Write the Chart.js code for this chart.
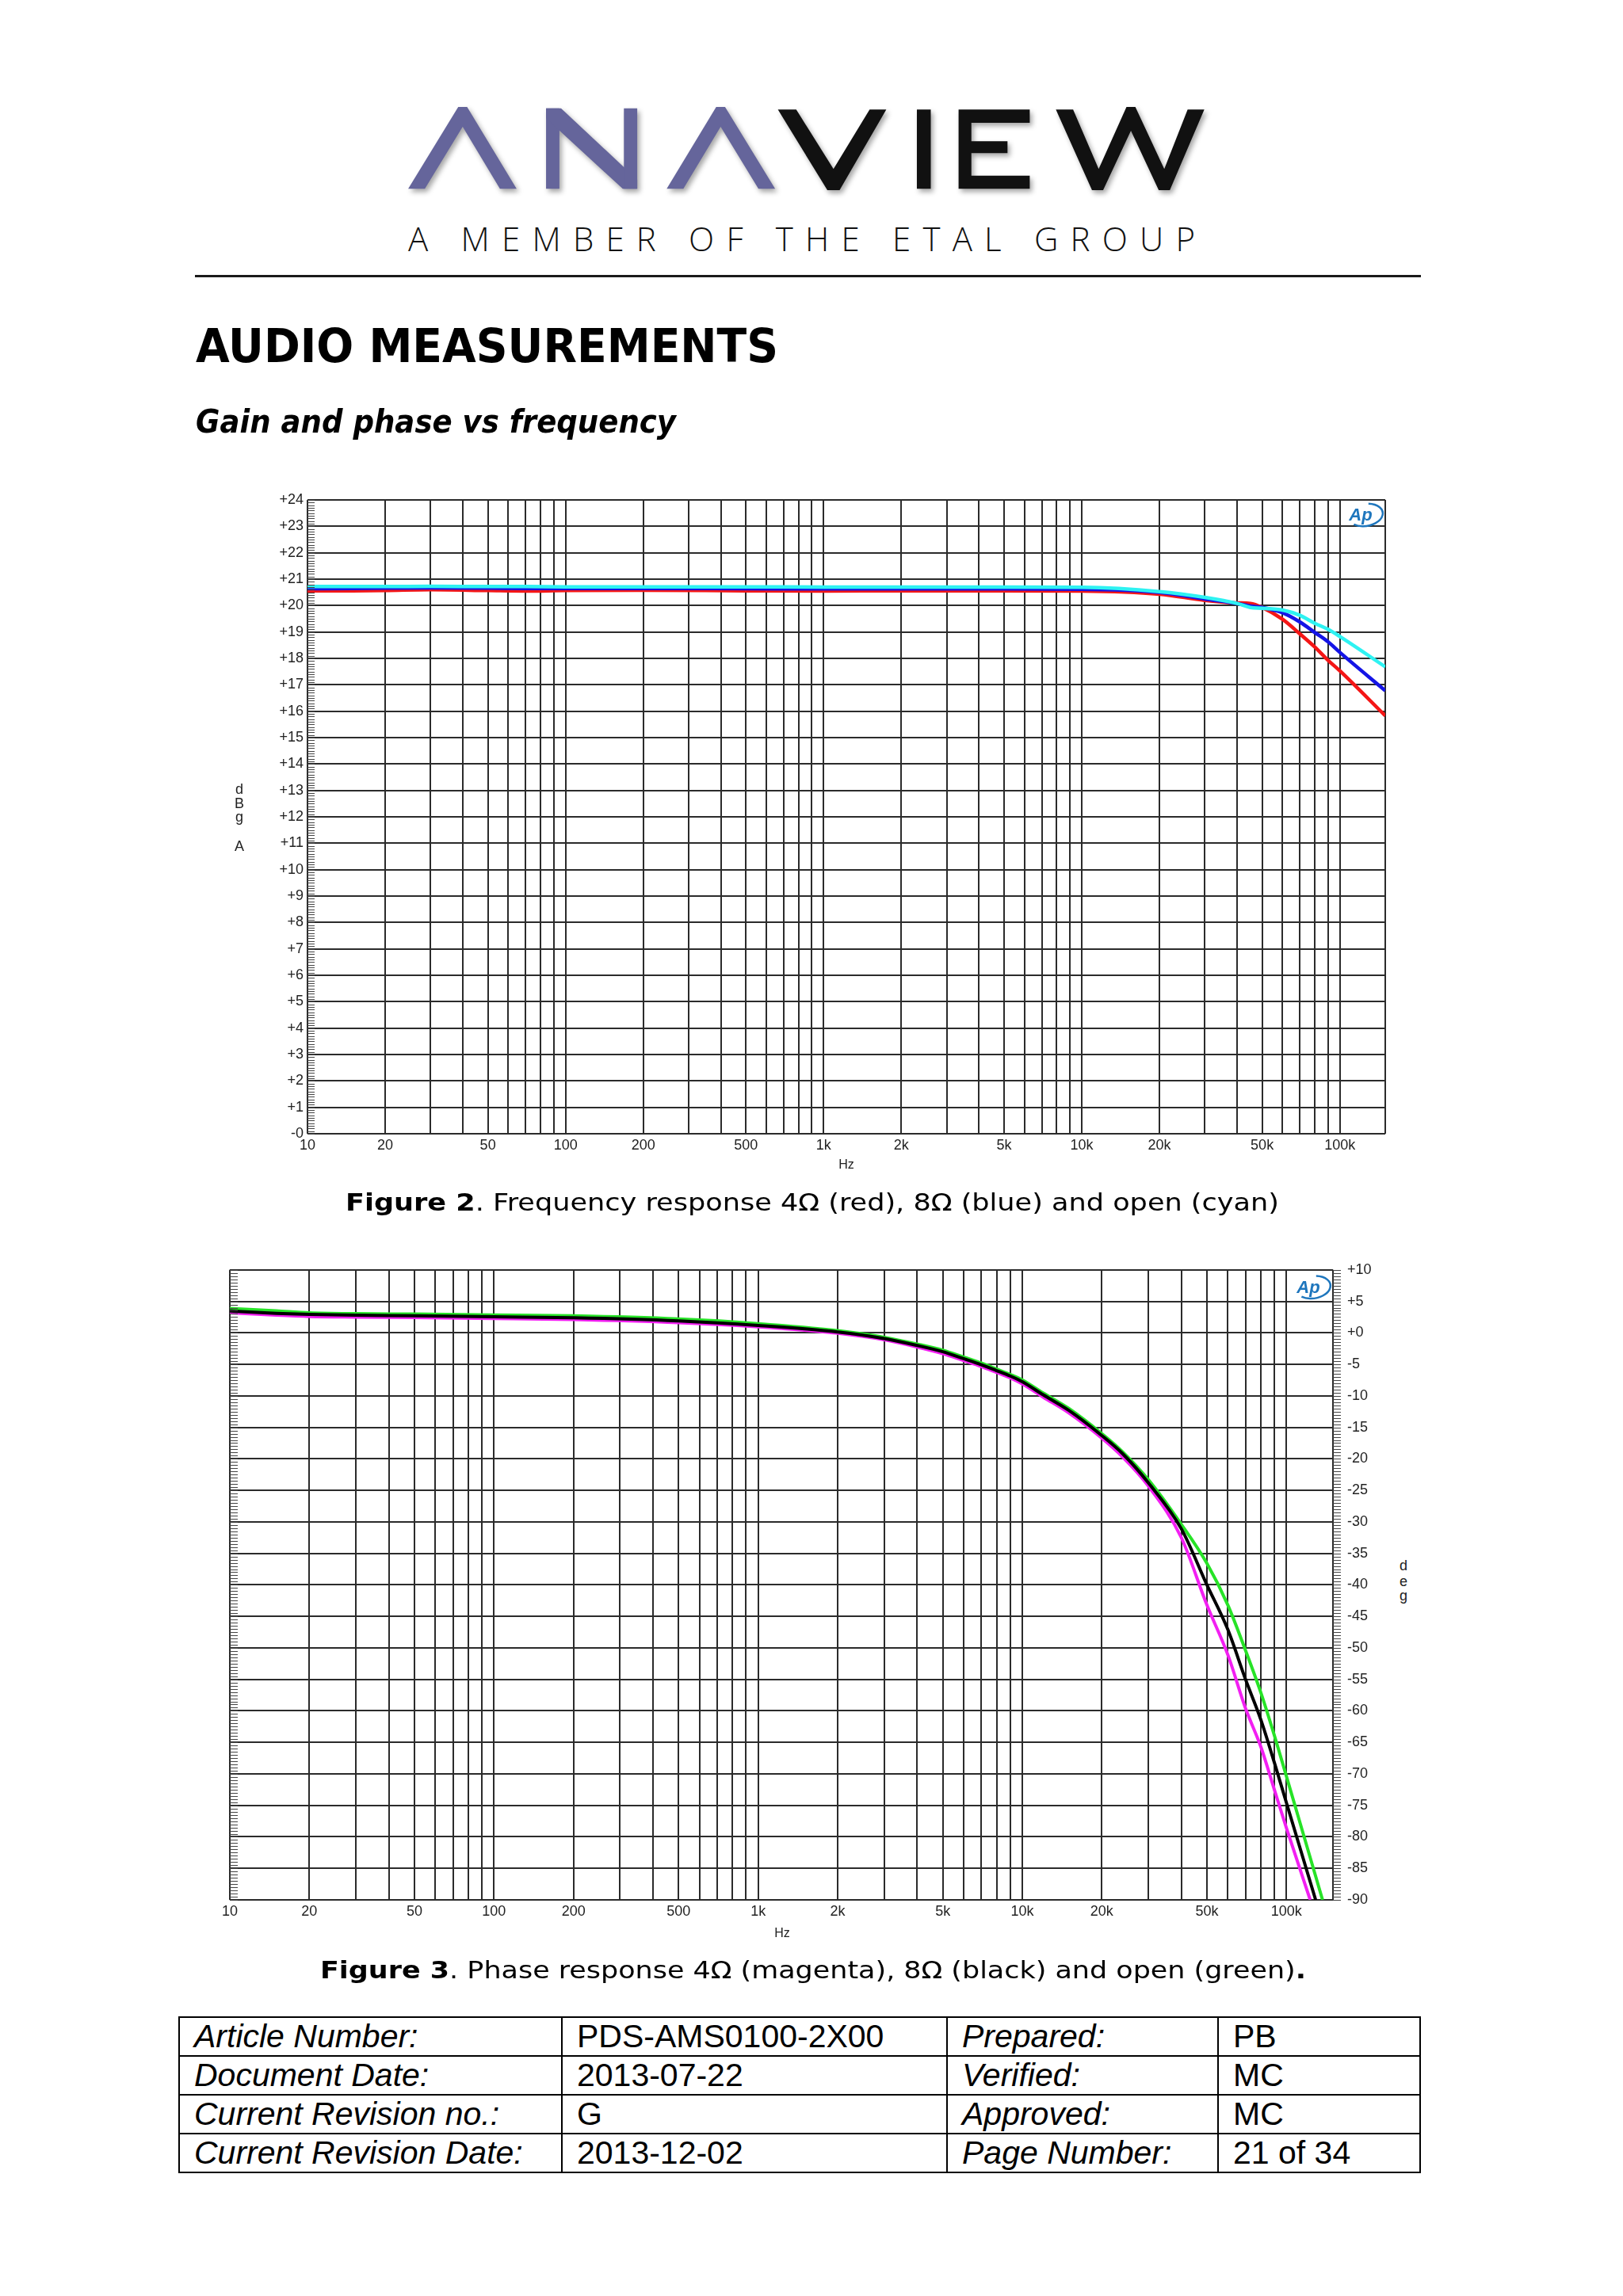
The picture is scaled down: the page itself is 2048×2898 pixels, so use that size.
<!DOCTYPE html>
<html>
<head>
<meta charset="utf-8">
<title>Audio measurements</title>
<script src="https://cdn.jsdelivr.net/npm/chart.js@4.4.0/dist/chart.umd.min.js"></script>
<style>
  html, body { margin: 0; padding: 0; background: #fff; }
  body { width: 2048px; height: 2898px; position: relative; overflow: hidden; font-family: "DejaVu Sans", sans-serif; color: #000; }
  .abs { position: absolute; white-space: nowrap; }
  .fit { display: inline-block; transform-origin: 0 0; }
  .ax { position: absolute; font-family: "Liberation Sans", Arial, sans-serif; font-size: 18px; line-height: 18px; color: #222; width: 20px; margin-left: -10px; text-align: center; }
  canvas { position: absolute; }
  table { position: absolute; left: 225px; top: 2545px; border-collapse: collapse; font-family: "Liberation Sans", Arial, sans-serif; font-size: 41px; }
  td { border: 2px solid #000; height: 47px; padding: 0 0 0 18px; line-height: 47px; white-space: nowrap; }
  td.k { font-style: italic; }
</style>
</head>
<body>

<svg class="abs" style="left:480px;top:110px;filter:drop-shadow(3px 4px 3px rgba(0,0,0,0.35))" width="1100" height="260" viewBox="0 0 1568 780" preserveAspectRatio="none">
  <g fill="#65659b">
    <polygon points="50,385 140,75 156,75 245,385 215,385 148,150 80,385"/>
    <polygon points="298,80 322,80 322,385 298,385"/>
    <polygon points="298,80 325,80 462,350 462,385 436,385 298,118"/>
    <polygon points="438,80 462,80 462,385 438,385"/>
    <polygon points="515,385 604,75 620,75 710,385 680,385 612,150 545,385"/>
  </g>
  <g fill="#111">
    <polygon points="715,85 748,85 815,310 880,85 910,85 826,390 804,390"/>
    <polygon points="965,85 990,85 990,385 965,385"/>
    <polygon points="1040,85 1168,85 1168,135 1063,135 1063,205 1128,205 1128,250 1063,250 1063,335 1168,335 1168,385 1040,385"/>
    <polygon points="1215,85 1246,85 1292,310 1342,75 1358,75 1410,310 1452,85 1482,85 1420,390 1400,390 1350,165 1300,390 1280,390"/>
  </g>
</svg>
<div class="abs" id="member" style="left:515px;top:280px;font-family:'Open Sans',sans-serif;font-weight:300;font-size:42px;line-height:42px;color:#111">A MEMBER OF THE ETAL GROUP</div>
<div class="abs" style="left:246px;top:347px;width:1547px;height:3px;background:#1a1a1a"></div>

<div class="abs" style="left:247px;top:408px;font-size:58px;line-height:58px;font-weight:bold"><span class="fit" data-w="735">AUDIO MEASUREMENTS</span></div>
<div class="abs" style="left:247px;top:512px;font-size:41px;line-height:41px;font-weight:bold;font-style:italic"><span class="fit" data-w="606">Gain and phase vs frequency</span></div>

<canvas id="gainChart" width="1510" height="880" style="left:260px;top:611px"></canvas>
<div class="ax" style="left:302px;top:987px">d</div>
<div class="ax" style="left:302px;top:1005px">B</div>
<div class="ax" style="left:302px;top:1022px">g</div>
<div class="ax" style="left:302px;top:1059px">A</div>
<div class="ax" style="left:1068px;top:1461px;font-size:16px">Hz</div>

<div class="abs" style="left:436px;top:1502px;font-size:31px;line-height:31px"><span class="fit" data-w="1178"><b>Figure 2</b>. Frequency response 4Ω (red), 8Ω (blue) and open (cyan)</span></div>

<canvas id="phaseChart" width="1480" height="880" style="left:270px;top:1574px"></canvas>
<div class="ax" style="left:1771px;top:1967px">d</div>
<div class="ax" style="left:1771px;top:1987px">e</div>
<div class="ax" style="left:1771px;top:2005px">g</div>
<div class="ax" style="left:987px;top:2431px;font-size:16px">Hz</div>

<div class="abs" style="left:404px;top:2471px;font-size:31px;line-height:31px"><span class="fit" data-w="1244"><b>Figure 3</b>. Phase response 4Ω (magenta), 8Ω (black) and open (green)<b>.</b></span></div>

<table>
  <colgroup><col style="width:483px"><col style="width:486px"><col style="width:342px"><col style="width:255px"></colgroup>
  <tr><td class="k">Article Number:</td><td>PDS-AMS0100-2X00</td><td class="k">Prepared:</td><td>PB</td></tr>
  <tr><td class="k">Document Date:</td><td>2013-07-22</td><td class="k">Verified:</td><td>MC</td></tr>
  <tr><td class="k">Current Revision no.:</td><td>G</td><td class="k">Approved:</td><td>MC</td></tr>
  <tr><td class="k">Current Revision Date:</td><td>2013-12-02</td><td class="k">Page Number:</td><td>21 of 34</td></tr>
</table>

<script>
// Figure 2: gain (dB) vs frequency (Hz)
const gainHz   = [10, 15, 20, 30, 50, 70, 100, 200, 500, 1000, 2000, 5000, 10000, 20000, 30000, 40000, 45000, 50000, 60000, 70000, 80000, 90000, 100000, 150000];
const gain4ohm = [20.56, 20.56, 20.57, 20.6, 20.57, 20.55, 20.57, 20.58, 20.56, 20.55, 20.56, 20.56, 20.55, 20.43, 20.2, 20.1, 20.08, 19.93, 19.48, 18.93, 18.43, 17.93, 17.53, 15.83];
const gain8ohm = [20.64, 20.65, 20.66, 20.67, 20.66, 20.65, 20.65, 20.65, 20.64, 20.63, 20.63, 20.63, 20.62, 20.5, 20.25, 20.08, 19.98, 19.93, 19.73, 19.38, 18.98, 18.63, 18.23, 16.78];
const gainOpen = [20.72, 20.72, 20.72, 20.73, 20.72, 20.72, 20.71, 20.71, 20.71, 20.7, 20.7, 20.7, 20.69, 20.53, 20.31, 20.08, 19.93, 19.9, 19.83, 19.63, 19.33, 19.1, 18.83, 17.68];

// Figure 3: phase (deg) vs frequency, [Hz, deg] pairs, each ends where it leaves the plot at -90
const phase8ohm = [[10, 3.46], [15, 3.1], [20, 2.93], [30, 2.8], [50, 2.72], [100, 2.55], [200, 2.4], [500, 1.9], [1000, 1.18], [2000, 0.14], [3000, -0.9], [4000, -2.0], [5000, -3.0], [6000, -4.1], [7000, -5.06], [8000, -6.0], [9000, -6.85], [10000, -7.76], [12000, -9.84], [15000, -12.3], [20000, -16.3], [24000, -19.2], [30000, -23.8], [40000, -31.1], [50000, -40], [60000, -47.1], [70000, -55], [80000, -61.4], [90000, -68.2], [100000, -74.6], [129000, -90]];
const phaseOpen = [[10, 3.88], [15, 3.5], [20, 3.2], [30, 3.05], [50, 2.98], [100, 2.85], [200, 2.7], [500, 2.2], [1000, 1.47], [2000, 0.35], [3000, -0.7], [4000, -1.78], [5000, -2.75], [6000, -3.85], [7000, -4.8], [8000, -5.75], [9000, -6.6], [10000, -7.47], [12000, -9.55], [15000, -12.0], [20000, -16.0], [24000, -18.9], [30000, -23.3], [40000, -30.4], [50000, -36.6], [60000, -43.2], [70000, -50.4], [80000, -57.1], [90000, -63.9], [100000, -70.4], [137000, -90]];
const phase4ohm = [[10, 3.17], [15, 2.8], [20, 2.6], [30, 2.5], [50, 2.42], [100, 2.28], [200, 2.1], [500, 1.6], [1000, 0.95], [2000, -0.07], [3000, -1.1], [4000, -2.25], [5000, -3.3], [6000, -4.4], [7000, -5.35], [8000, -6.3], [9000, -7.15], [10000, -8.1], [12000, -10.2], [15000, -12.7], [20000, -16.7], [24000, -19.7], [30000, -24.3], [40000, -32.5], [50000, -43.2], [60000, -51.1], [70000, -59.6], [80000, -65.7], [90000, -72.5], [100000, -78.6], [123000, -90]];

// axis labels
const hzTickValues = [10, 20, 50, 100, 200, 500, 1000, 2000, 5000, 10000, 20000, 50000, 100000];
const hzTickLabels = ['10', '20', '50', '100', '200', '500', '1k', '2k', '5k', '10k', '20k', '50k', '100k'];
const hzMin = 10, hzMax = 150000;

function logGrid(lo, hi) {
  const out = [];
  for (let d = lo; d < hi; d *= 10) {
    for (let m = 1; m < 10; m++) if (m * d <= hi) out.push(m * d);
  }
  if (out[out.length - 1] !== hi) out.push(hi);
  return out;
}
const hzGrid = logGrid(hzMin, hzMax);

// the fine tick ladder AP draws along the level axis
const combPlugin = {
  id: 'comb',
  afterDraw(chart, args, o) {
    const { ctx, chartArea: a } = chart;
    const s = chart.scales.y;
    ctx.save();
    ctx.strokeStyle = o.color;
    ctx.lineWidth = 1;
    const n = Math.round((s.max - s.min) / o.step);
    ctx.beginPath();
    for (const side of o.sides) {
      const x0 = side === 'left' ? a.left : a.right;
      for (let i = 0; i <= n; i++) {
        const y = Math.round(s.getPixelForValue(s.min + i * o.step)) + 0.5;
        ctx.moveTo(x0, y);
        ctx.lineTo(x0 + o.len, y);
      }
    }
    ctx.stroke();
    ctx.restore();
  }
};

const apLogo = {
  id: 'apLogo',
  afterDraw(chart, args, o) {
    const { ctx, chartArea: a } = chart;
    const cx = a.right - o.dx, cy = a.top + o.dy;
    ctx.save();
    ctx.strokeStyle = '#1e76bd';
    ctx.fillStyle = '#1e76bd';
    ctx.lineWidth = 2.5;
    ctx.beginPath();
    ctx.ellipse(cx + 3, cy, 22, 14, -0.15, -1.3, 2.4);
    ctx.stroke();
    ctx.font = 'italic bold 22px "Liberation Sans"';
    ctx.textAlign = 'center';
    ctx.textBaseline = 'middle';
    ctx.fillText('Ap', cx - 3, cy + 1);
    ctx.restore();
  }
};

const tickFont = { family: '"Liberation Sans", Arial, sans-serif', size: 18 };
const gridStyle = { color: '#2b2b2b', lineWidth: 2, drawTicks: false };

function hzAxis(height) {
  return {
    type: 'logarithmic', min: hzMin, max: hzMax,
    afterBuildTicks: s => { s.ticks = hzGrid.map(v => ({ value: v })); },
    afterFit: s => { s.height = height; },
    ticks: {
      autoSkip: false, maxRotation: 0, padding: 4, color: '#222', font: tickFont,
      callback: v => { const i = hzTickValues.indexOf(v); return i >= 0 ? hzTickLabels[i] : ''; }
    },
    grid: gridStyle,
    border: { display: false }
  };
}

function line(points, color, width, order) {
  return {
    data: points, borderColor: color, borderWidth: width, order: order,
    pointRadius: 0, fill: false, cubicInterpolationMode: 'monotone'
  };
}

new Chart(document.getElementById('gainChart'), {
  type: 'line',
  data: {
    datasets: [
      line(gainHz.map((f, i) => ({ x: f, y: gainOpen[i] })), '#2ef2f2', 4.5, 0),
      line(gainHz.map((f, i) => ({ x: f, y: gain8ohm[i] })), '#1414e6', 4.5, 1),
      line(gainHz.map((f, i) => ({ x: f, y: gain4ohm[i] })), '#f41616', 4.5, 2)
    ]
  },
  options: {
    responsive: false, animation: false, events: [],
    layout: { padding: { top: 20, right: 22, left: 0, bottom: 0 } },
    plugins: {
      legend: { display: false }, tooltip: { enabled: false },
      comb: { step: 0.1, len: 9, sides: ['left'], color: '#444' },
      apLogo: { dx: 28, dy: 19 }
    },
    scales: {
      x: hzAxis(60),
      y: {
        min: 0, max: 24,
        afterFit: s => { s.width = 128; },
        ticks: {
          stepSize: 1, padding: 5, color: '#222', font: tickFont,
          callback: v => (v === 0 ? '-0' : '+' + v)
        },
        grid: gridStyle,
        border: { display: false }
      }
    }
  },
  plugins: [combPlugin, apLogo]
});

new Chart(document.getElementById('phaseChart'), {
  type: 'line',
  data: {
    datasets: [
      line(phase8ohm.map(([x, y]) => ({ x, y })), '#000000', 4, 0),
      line(phaseOpen.map(([x, y]) => ({ x, y })), '#27e327', 4, 1),
      line(phase4ohm.map(([x, y]) => ({ x, y })), '#f21ff2', 4, 2)
    ]
  },
  options: {
    responsive: false, animation: false, events: [],
    layout: { padding: { top: 20, right: 0, left: 20, bottom: 0 } },
    plugins: {
      legend: { display: false }, tooltip: { enabled: false },
      comb: { step: 0.5, len: 10, sides: ['left', 'right'], color: '#444' },
      apLogo: { dx: 28, dy: 22 }
    },
    scales: {
      x: hzAxis(56),
      y: {
        position: 'right', min: -90, max: 10,
        afterFit: s => { s.width = 68; },
        ticks: {
          stepSize: 5, padding: 18, color: '#222', font: tickFont,
          callback: v => (v > 0 ? '+' + v : v === 0 ? '+0' : String(v))
        },
        grid: gridStyle,
        border: { display: false }
      }
    }
  },
  plugins: [combPlugin, apLogo]
});

// squeeze headings and captions to the widths they have on the page
function fitAll() {
  document.querySelectorAll('.fit').forEach(el => {
    el.style.transform = '';
    const w = el.getBoundingClientRect().width;
    el.style.transform = 'scaleX(' + (+el.dataset.w / w) + ')';
  });
  const m = document.getElementById('member');
  m.style.letterSpacing = '0px';
  const n = m.textContent.length;
  const w0 = m.getBoundingClientRect().width;
  m.style.letterSpacing = ((993 - w0) / (n - 1)) + 'px';
}
fitAll();
if (document.fonts) document.fonts.ready.then(fitAll);
</script>
</body>
</html>
